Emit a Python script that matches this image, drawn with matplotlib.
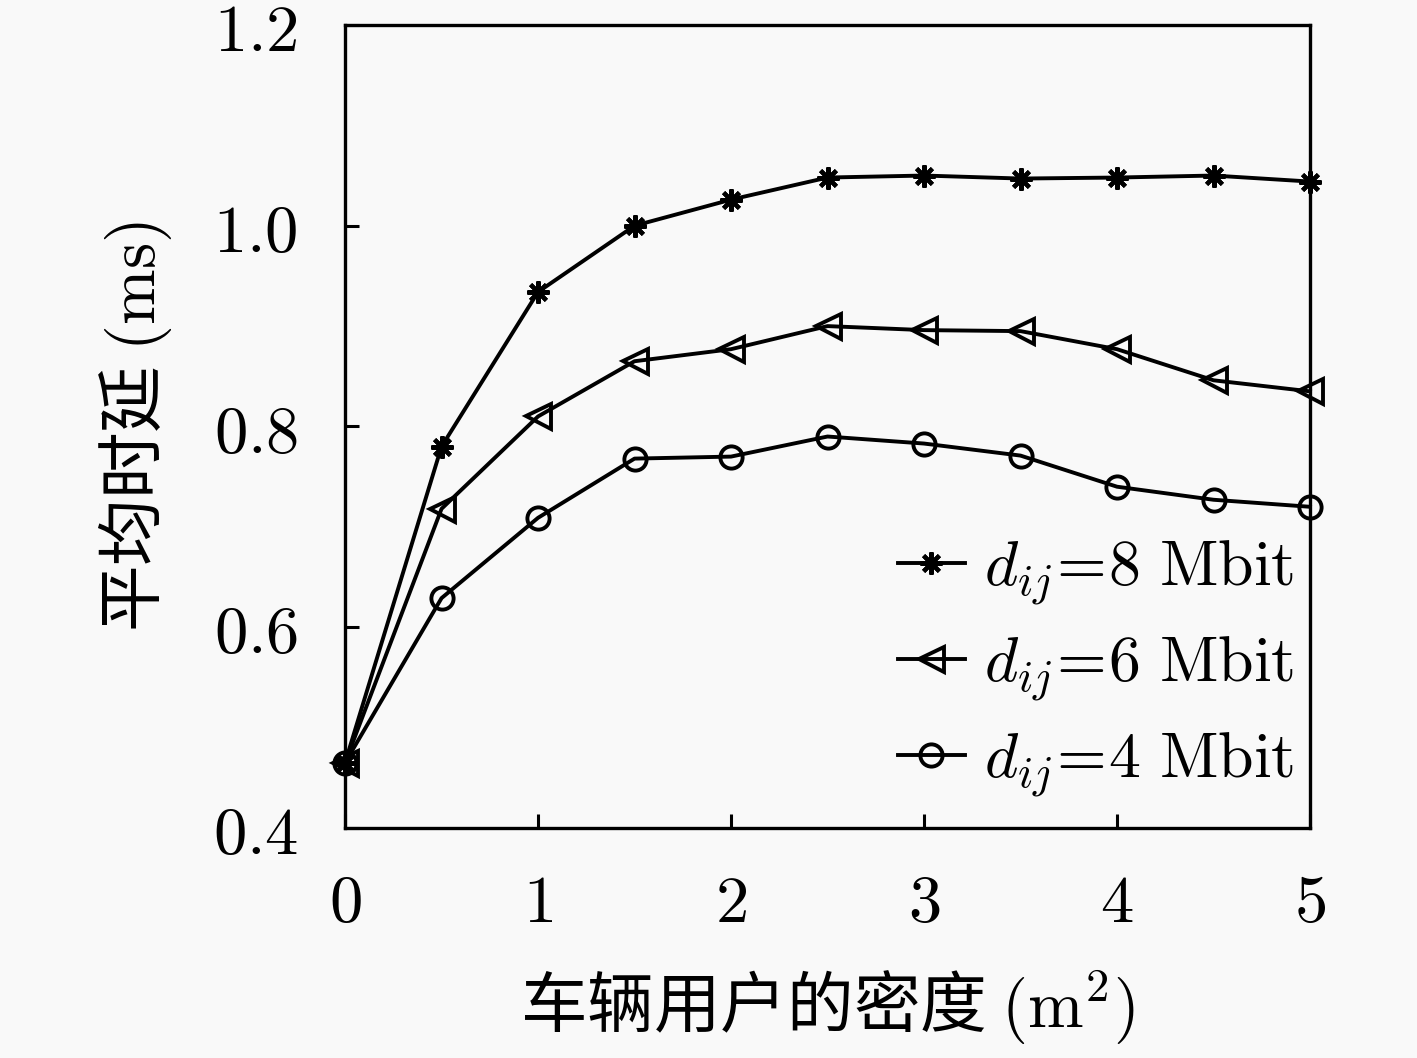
import matplotlib
matplotlib.use('Agg')
import matplotlib.pyplot as plt

plt.rcParams['mathtext.fontset'] = 'cm'
plt.rcParams['font.family'] = ['Noto Sans CJK SC', 'DejaVu Sans']

# densidad de usuarios (x) y retardo medio (ms)
x = [0, 0.5, 1, 1.5, 2, 2.5, 3, 3.5, 4, 4.5, 5]
d8 = [0.465, 0.780, 0.934, 1.000, 1.026, 1.048, 1.050, 1.047, 1.048, 1.050, 1.044]
d6 = [0.465, 0.718, 0.810, 0.865, 0.877, 0.900, 0.896, 0.895, 0.877, 0.846, 0.835]
d4 = [0.465, 0.629, 0.709, 0.768, 0.770, 0.790, 0.783, 0.771, 0.740, 0.727, 0.720]
etiquetas = [r'$d_{ij}\!=\!8\ \mathrm{Mbit}$', r'$d_{ij}\!=\!6\ \mathrm{Mbit}$', r'$d_{ij}\!=\!4\ \mathrm{Mbit}$']
xticks = [0, 1, 2, 3, 4, 5]
yticks = [0.4, 0.6, 0.8, 1.0, 1.2]

fig = plt.figure(figsize=(14.17, 10.58), dpi=100, facecolor='#f9f9f9')
ax = fig.add_axes([0.2435, 0.2174, 0.681, 0.759])
ax.set_facecolor('#f9f9f9')

ax.plot(x, d8, '-', color='k', lw=2.8, marker=(8, 2, 0), ms=16, mew=3, label=etiquetas[0], clip_on=False)
ax.plot(x, d6, '-', color='k', lw=2.8, marker='<', ms=18, mfc='none', mew=2.8, label=etiquetas[1], clip_on=False)
ax.plot(x, d4, '-', color='k', lw=2.8, marker='o', ms=16, mfc='none', mew=2.8, label=etiquetas[2], clip_on=False)

ax.set_xlim(0, 5)
ax.set_ylim(0.4, 1.2)
ax.set_xticks(xticks)
ax.set_xticklabels(['$%d$' % v for v in xticks])
ax.set_yticks(yticks)
ax.set_yticklabels(['$%.1f$' % v for v in yticks])
ax.tick_params(direction='in', length=10, width=2.2, labelsize=48, pad=30)
ax.tick_params(axis='y', pad=34)
for s in ax.spines.values():
    s.set_linewidth(2.4)

ax.set_xlabel(r'车辆用户的密度 $(\mathrm{m}^2)$', fontsize=48, labelpad=22)
ax.set_ylabel(r'平均时延 $(\mathrm{ms})$', fontsize=48, labelpad=28)

ax.legend(loc='lower right', bbox_to_anchor=(1, 0.015), frameon=False, fontsize=46,
          handlelength=1.05, handletextpad=0.3, labelspacing=0.35,
          borderpad=0.15, borderaxespad=0.1)

fig.savefig('out.png', dpi=100, facecolor=fig.get_facecolor())
